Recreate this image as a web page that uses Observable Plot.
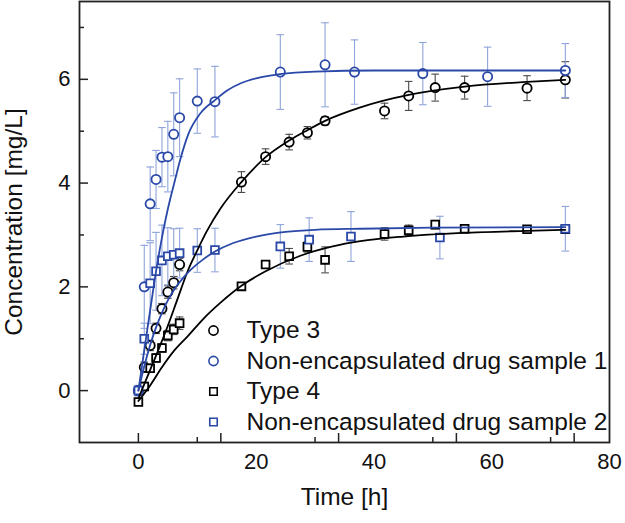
<!DOCTYPE html>
<html><head><meta charset="utf-8">
<script src="https://cdn.jsdelivr.net/npm/d3@7"></script>
<script src="https://cdn.jsdelivr.net/npm/@observablehq/plot@0.6"></script>
<style>body{margin:0;background:#fff}#chart svg{display:block}</style>
</head><body><div id="chart"></div>
<script>
// ---- measured data ----
const type3T   = [0, 1, 2, 3, 4, 5, 6, 7, 17.5, 21.6, 25.6, 28.7, 31.7, 41.8, 45.9, 50.4, 55.4, 66, 72.5];
const type3Y   = [0.0, 0.45, 0.87, 1.2, 1.58, 1.9, 2.08, 2.43, 4.02, 4.51, 4.79, 4.97, 5.2, 5.39, 5.68, 5.84, 5.84, 5.83, 5.99];
const type3Err = [0.08, 0.1, 0.1, 0.1, 0.1, 0.12, 0.12, 0.12, 0.2, 0.15, 0.15, 0.12, 0.08, 0.15, 0.28, 0.26, 0.22, 0.24, 0.35];

const nonEnc1T   = [0, 1, 2, 3, 4, 5, 6, 7, 10, 13, 24.1, 31.7, 36.7, 48.3, 59.3, 72.5];
const nonEnc1Y   = [0.0, 2.0, 3.6, 4.07, 4.5, 4.51, 4.94, 5.26, 5.58, 5.57, 6.14, 6.28, 6.14, 6.11, 6.05, 6.17];
const nonEnc1Err = [0.1, 0.8, 0.71, 0.56, 0.57, 0.68, 0.8, 0.75, 0.62, 0.68, 0.72, 0.81, 0.62, 0.6, 0.57, 0.52];

const type4T   = [0, 1, 2, 3, 4, 5, 6, 7, 17.5, 21.6, 25.6, 28.7, 31.7, 41.8, 45.9, 50.4, 55.4, 66, 72.5];
const type4Y   = [-0.22, 0.08, 0.43, 0.63, 0.82, 1.06, 1.18, 1.3, 2.01, 2.43, 2.59, 2.77, 2.52, 3.02, 3.09, 3.2, 3.12, 3.11, 3.11];
const type4Err = [0.06, 0.08, 0.08, 0.08, 0.08, 0.1, 0.1, 0.12, 0.05, 0.05, 0.15, 0.1, 0.25, 0.12, 0.1, 0.08, 0.06, 0.05, 0.05];

const nonEnc2T   = [0, 1, 2, 3, 4, 5, 6, 7, 10, 13, 24.1, 29, 36.1, 51.2, 72.5];
const nonEnc2Y   = [0.0, 1.0, 2.07, 2.3, 2.51, 2.59, 2.62, 2.65, 2.7, 2.71, 2.78, 2.91, 2.97, 2.95, 3.12];
const nonEnc2Err = [0.1, 0.3, 0.78, 0.75, 0.68, 0.55, 0.5, 0.48, 0.42, 0.42, 0.42, 0.42, 0.48, 0.41, 0.43];

// fitted curves
const fit3T = [0, 2, 3.35, 5, 6.5, 8.4, 9.9, 11.6, 14, 17.5, 21.6, 25.6, 28.7, 31.7, 37.7, 45.9, 55.4, 66, 72.5];
const fit3Y = [-0.15, 0.4, 0.77, 1.25, 1.72, 2.31, 2.68, 3.07, 3.52, 4.02, 4.5, 4.82, 5.02, 5.2, 5.46, 5.7, 5.86, 5.95, 5.99];
const fit1T = [0, 1, 2, 3, 4, 5, 6.2, 7.1, 8.5, 10.5, 13, 15, 17.3, 20, 24, 30, 40, 72.5];
const fit1Y = [0, 0.78, 1.55, 2.3, 2.95, 3.5, 4.05, 4.45, 4.95, 5.34, 5.6, 5.78, 5.92, 6.02, 6.1, 6.15, 6.17, 6.17];
const fit4T = [0, 2, 4, 6, 8.4, 11, 14, 17.5, 21.6, 27.5, 33, 37.7, 45, 55, 66, 72.5];
const fit4Y = [-0.2, 0.1, 0.45, 0.76, 1.05, 1.38, 1.7, 2.02, 2.3, 2.6, 2.78, 2.88, 2.97, 3.04, 3.08, 3.1];
const fit2T = [0, 1, 2, 3, 4, 5, 6.2, 7.5, 9, 11, 13, 16, 20, 25, 30, 37.7, 50, 72.5];
const fit2Y = [0, 0.47, 0.88, 1.22, 1.5, 1.74, 1.97, 2.16, 2.34, 2.53, 2.68, 2.84, 2.97, 3.06, 3.1, 3.12, 3.14, 3.15];

// axes
const xTickLabels = [0, 20, 40, 60, 80];
const xMajorTicks = [0, 14, 34, 54, 74];
const xMinorTicks = [10, 30, 50, 70];
const yTickLabels = [0, 2, 4, 6];
const yMinorTicks = [1, 3, 5, 7];

const legendLabels = ["Type 3", "Non-encapsulated drug sample 1", "Type 4", "Non-encapsulated drug sample 2"];

// ---- layout / styling ----
const W = 625, H = 523, ML = 79, MR = 16, MT = 1, MB = 81;
const PW = W - ML - MR, PH = H - MT - MB;
const blue = "#2a48a8", lightBlue = "#8fa4da", errGray = "#4a4a4a";
const rows = (t, y, e) => t.map((d, i) => ({t: d, y: y[i], e: e ? e[i] : 0}));
const capSymbol = {draw(ctx, size) { const r = Math.sqrt(size / Math.PI); ctx.moveTo(-r, 0); ctx.lineTo(r, 0); }};

const series = [
  {data: rows(type3T, type3Y, type3Err), fit: rows(fit3T, fit3Y), color: "#000", err: errGray, symbol: "circle", r: 4.6},
  {data: rows(nonEnc1T, nonEnc1Y, nonEnc1Err), fit: rows(fit1T, fit1Y), color: blue, err: lightBlue, symbol: "circle", r: 4.6},
  {data: rows(type4T, type4Y, type4Err), fit: rows(fit4T, fit4Y), color: "#000", err: errGray, symbol: "square", r: 4.4},
  {data: rows(nonEnc2T, nonEnc2Y, nonEnc2Err), fit: rows(fit2T, fit2Y), color: blue, err: lightBlue, symbol: "square", r: 4.4}
];

const marks = [];
for (const s of series) {
  marks.push(Plot.ruleX(s.data, {x: "t", y1: d => d.y - d.e, y2: d => d.y + d.e, stroke: s.err, strokeWidth: 1.1}));
  marks.push(Plot.dot(s.data, {x: "t", y: d => d.y + d.e, symbol: capSymbol, r: 3.8, stroke: s.err, strokeWidth: 1.1, fill: "none"}));
  marks.push(Plot.dot(s.data, {x: "t", y: d => d.y - d.e, symbol: capSymbol, r: 3.8, stroke: s.err, strokeWidth: 1.1, fill: "none"}));
}
for (const s of series) {
  marks.push(Plot.dot(s.data, {x: "t", y: "y", symbol: s.symbol, r: s.r, stroke: s.color, strokeWidth: 1.8, fill: "white"}));
}
for (const s of series) {
  marks.push(Plot.line(s.fit, {x: "t", y: "y", stroke: s.color, strokeWidth: 1.8, curve: "monotone-x"}));
}
series.forEach((s, i) => {
  const dy = 329 + i * 30.5;
  marks.push(Plot.dot([legendLabels[i]], {frameAnchor: "top-left", dx: 134, dy, symbol: s.symbol, r: s.symbol === "circle" ? 4.6 : 4.2, stroke: s.color, strokeWidth: 1.6, fill: "white"}));
  marks.push(Plot.text([legendLabels[i]], {frameAnchor: "top-left", dx: 167, dy, text: d => d, textAnchor: "start", lineAnchor: "middle", fontSize: 24.5, fill: "#111"}));
});
// inward tick marks
marks.push(
  Plot.ruleX(xMajorTicks, {x: d => d, insetTop: PH - 9, stroke: "#222", strokeWidth: 1.5}),
  Plot.ruleX(xMinorTicks, {x: d => d, insetTop: PH - 5, stroke: "#222", strokeWidth: 1.5}),
  Plot.ruleY(yTickLabels, {y: d => d, insetRight: PW - 9, stroke: "#222", strokeWidth: 1.5}),
  Plot.ruleY(yMinorTicks, {y: d => d, insetRight: PW - 5, stroke: "#222", strokeWidth: 1.5}),
  Plot.axisX(xTickLabels, {tickSize: 0, tickPadding: 11, fontSize: 22, fill: "#111", tickFormat: d => d, label: null}),
  Plot.axisY(yTickLabels, {tickSize: 0, tickPadding: 9, fontSize: 22, fill: "#111", tickFormat: d => d, label: null}),
  Plot.text(["Concentration [mg/L]"], {frameAnchor: "left", dx: -65, rotate: -90, textAnchor: "middle", lineAnchor: "middle", text: d => d, fontSize: 24.5, fill: "#111"}),
  Plot.text(["Time [h]"], {frameAnchor: "bottom", dy: 55, textAnchor: "middle", lineAnchor: "middle", text: d => d, fontSize: 24.5, fill: "#111"}),
  Plot.frame({stroke: "#222", strokeWidth: 1.8})
);

const chart = Plot.plot({
  width: W, height: H,
  marginLeft: ML, marginRight: MR, marginTop: MT, marginBottom: MB,
  style: {fontFamily: "'Liberation Sans', Arial, Helvetica, sans-serif", background: "white"},
  x: {domain: [-10, 80], label: null},
  y: {domain: [-1, 7.5], label: null},
  marks
});
document.getElementById("chart").appendChild(chart);
</script></body></html>
